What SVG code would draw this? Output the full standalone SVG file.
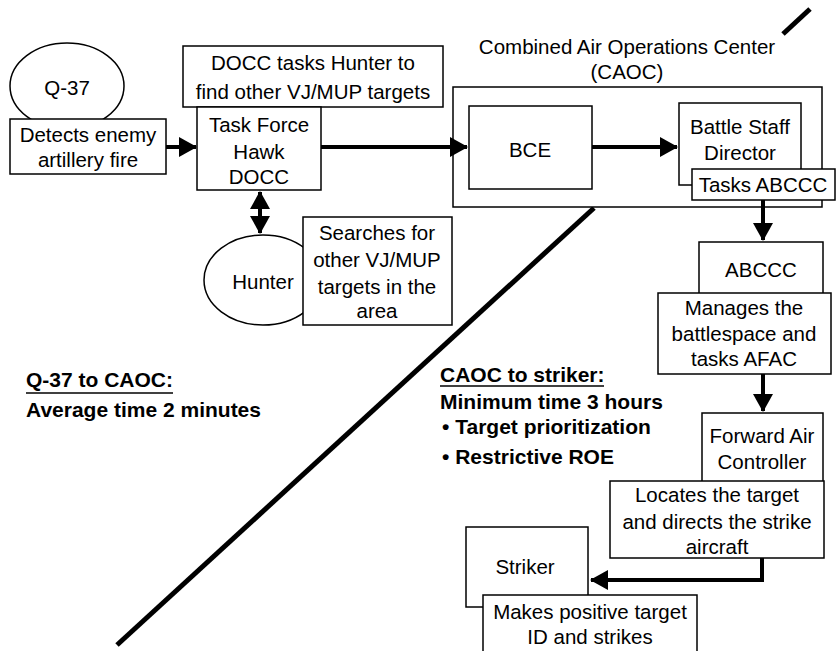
<svg xmlns="http://www.w3.org/2000/svg" width="840" height="651" viewBox="0 0 840 651">
<style>
.box{fill:#fff;stroke:#000;stroke-width:1.5}
.t{font-family:"Liberation Sans",Arial,sans-serif;font-size:20.5px;fill:#000;text-anchor:middle}
.b{font-family:"Liberation Sans",Arial,sans-serif;font-size:21px;font-weight:bold;fill:#000}
.c{fill:none;stroke:#000;stroke-width:4}
.u{stroke:#000;stroke-width:1.5}
</style>
<defs>
<marker id="ah" markerUnits="userSpaceOnUse" markerWidth="18" markerHeight="20" refX="17" refY="10" orient="auto-start-reverse">
<path d="M0,0 L18,10 L0,20 Z" fill="#000"/>
</marker>
</defs>
<rect width="840" height="651" fill="#fff"/>
<g id="divider">
<line x1="810" y1="9" x2="783" y2="34" stroke="#000" stroke-width="5"/>
<line x1="594" y1="208" x2="117" y2="645" stroke="#000" stroke-width="5"/>
</g>
<g id="q37">
<ellipse cx="67" cy="86" rx="57" ry="43" fill="#fff" stroke="#000" stroke-width="1.5"/>
<text class="t" x="67" y="95">Q-37</text>
</g>
<g id="detects">
<rect class="box" x="10" y="119" width="156" height="55"/>
<text class="t" x="88" y="142">Detects enemy</text>
<text class="t" x="88" y="167">artillery fire</text>
</g>
<g id="docc-note">
<rect class="box" x="183" y="46" width="260" height="61"/>
<text class="t" x="313" y="70">DOCC tasks Hunter to</text>
<text class="t" x="313" y="99">find other VJ/MUP targets</text>
</g>
<g id="tfh">
<rect class="box" x="197" y="107" width="124" height="83"/>
<text class="t" x="259" y="132">Task Force</text>
<text class="t" x="259" y="159">Hawk</text>
<text class="t" x="259" y="184">DOCC</text>
</g>
<g id="hunter">
<ellipse cx="263" cy="280" rx="59" ry="45" fill="#fff" stroke="#000" stroke-width="1.5"/>
<text class="t" x="263" y="289">Hunter</text>
</g>
<g id="searches">
<rect class="box" x="303" y="217" width="149" height="108"/>
<text class="t" x="377" y="240">Searches for</text>
<text class="t" x="377" y="267">other VJ/MUP</text>
<text class="t" x="377" y="294">targets in the</text>
<text class="t" x="377" y="318">area</text>
</g>
<g id="caoc">
<rect class="box" x="453" y="87" width="369" height="120"/>
<text class="t" x="627" y="54">Combined Air Operations Center</text>
<text class="t" x="627" y="79">(CAOC)</text>
</g>
<g id="bce">
<rect class="box" x="469" y="106" width="123" height="83"/>
<text class="t" x="530" y="157">BCE</text>
</g>
<g id="bsd">
<rect class="box" x="679" y="103" width="122" height="82"/>
<text class="t" x="740" y="134">Battle Staff</text>
<text class="t" x="740" y="160">Director</text>
</g>
<g id="tasks-abccc">
<rect class="box" x="692" y="169" width="143" height="31"/>
<text class="t" x="763" y="192">Tasks ABCCC</text>
</g>
<g id="abccc">
<rect class="box" x="699" y="242" width="124" height="60"/>
<text class="t" x="761" y="277">ABCCC</text>
</g>
<g id="manages">
<rect class="box" x="658" y="293" width="173" height="81"/>
<text class="t" x="744" y="315">Manages the</text>
<text class="t" x="744" y="341">battlespace and</text>
<text class="t" x="744" y="366">tasks AFAC</text>
</g>
<g id="fac">
<rect class="box" x="702" y="413" width="121" height="70"/>
<text class="t" x="762" y="443">Forward Air</text>
<text class="t" x="762" y="469">Controller</text>
</g>
<g id="locates">
<rect class="box" x="610" y="481" width="214" height="77"/>
<text class="t" x="717" y="502">Locates the target</text>
<text class="t" x="717" y="529">and directs the strike</text>
<text class="t" x="717" y="554">aircraft</text>
</g>
<g id="striker">
<rect class="box" x="466" y="527" width="122" height="80"/>
<text class="t" x="525" y="574">Striker</text>
</g>
<g id="makes">
<rect class="box" x="483" y="595" width="214" height="60"/>
<text class="t" x="590" y="619">Makes positive target</text>
<text class="t" x="590" y="644">ID and strikes</text>
</g>
<g id="connectors">
<line class="c" x1="166" y1="147" x2="196" y2="147" marker-end="url(#ah)"/>
<line class="c" x1="321" y1="147" x2="467" y2="147" marker-end="url(#ah)"/>
<line class="c" x1="592" y1="147" x2="677" y2="147" marker-end="url(#ah)"/>
<line class="c" x1="260" y1="192" x2="260" y2="233" marker-start="url(#ah)" marker-end="url(#ah)"/>
<line class="c" x1="763" y1="200" x2="763" y2="240" marker-end="url(#ah)"/>
<line class="c" x1="763" y1="374" x2="763" y2="411" marker-end="url(#ah)"/>
<polyline class="c" points="762,558 762,580 591,580" marker-end="url(#ah)"/>
</g>
<g id="notes">
<text class="b" x="26" y="387">Q-37 to CAOC:</text>
<line class="u" x1="26" y1="393" x2="173" y2="393"/>
<text class="b" x="26" y="417">Average time 2 minutes</text>
<text class="b" x="440" y="382">CAOC to striker:</text>
<line class="u" x1="440" y1="386" x2="604" y2="386"/>
<text class="b" x="440" y="409">Minimum time 3 hours</text>
<text class="b" x="442" y="434">• Target prioritization</text>
<text class="b" x="442" y="464">• Restrictive ROE</text>
</g>
</svg>
